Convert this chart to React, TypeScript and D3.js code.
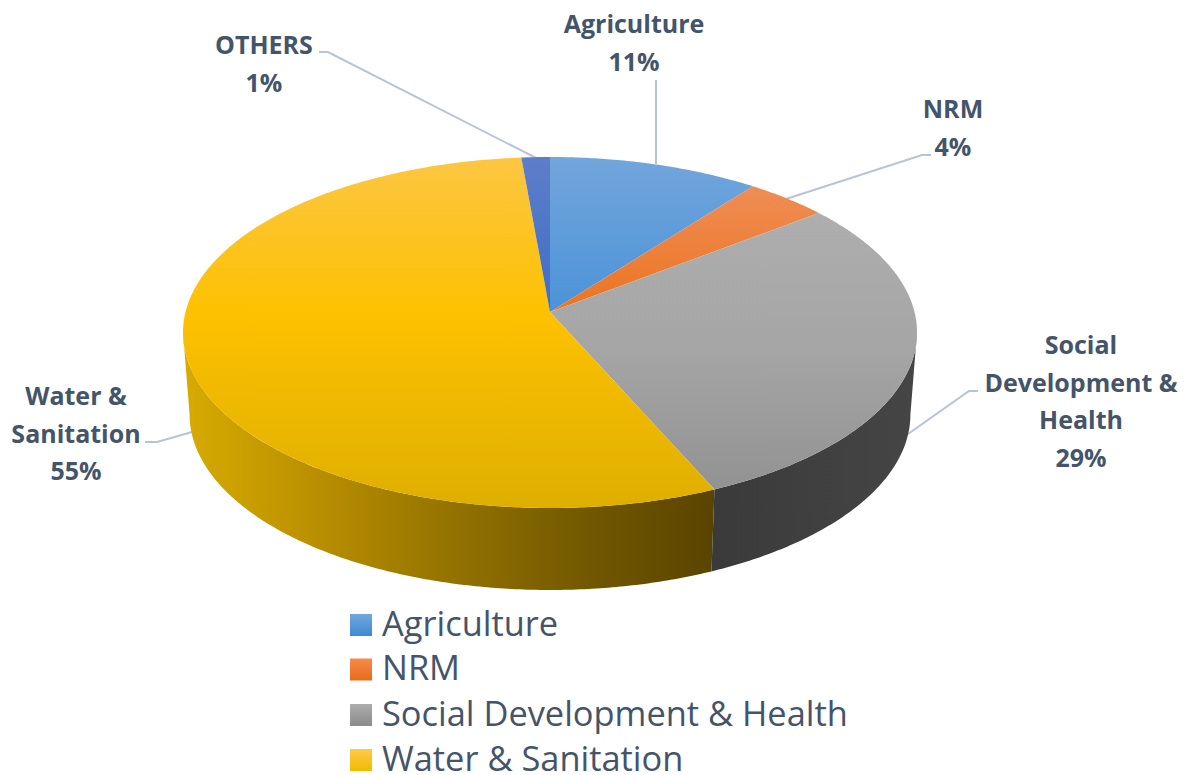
import React from "react";
import * as d3 from "d3";

const sliceNames = ["Agriculture", "NRM", "Social Development & Health", "Water & Sanitation", "OTHERS"];
const sliceValues = [10.4, 4.1, 28.9, 55.2, 1.4];
const sliceGradients = [
  [["0", "#72a6dc"], ["1", "#4c92d8"]],
  [["0", "#ef8d55"], ["1", "#ec7420"]],
  [["0", "#aeaeae"], ["0.5", "#a5a5a5"], ["1", "#929292"]],
  [["0", "#fcc643"], ["0.45", "#fdc100"], ["1", "#deaf00"]],
  [["0", "#5d7ec9"], ["1", "#3f6ec6"]],
];
const sliceGradientSpans = [[157, 312], [186, 312], [213, 490], [157, 508], [157, 312]];
const wallGradients = [
  [["0", "#d6aa00"], ["0.22", "#bd9200"], ["0.5", "#947300"], ["0.78", "#705600"], ["1", "#5a4500"]],
  [["0", "#3a3a3a"], ["1", "#454545"]],
];
const wallSlices = [3, 2];
const wallSpans = [[188, 711], [711, 911]];

const calloutLines = [
  ["Agriculture", "11%"],
  ["NRM", "4%"],
  ["Social", "Development &", "Health", "29%"],
  ["Water &", "Sanitation", "55%"],
  ["OTHERS", "1%"],
];
const calloutCenters = [[634, 33], [953, 118], [1081, 354], [76, 405], [264, 54]];
const leaderPaths = [
  [[656, 80], [656, 164]],
  [[931, 155], [922, 155], [786, 199]],
  [[978, 391], [969, 391], [908, 434]],
  [[145, 442], [157, 442], [192, 432]],
  [[319, 52], [328, 52], [536, 158]],
];
const legendNames = ["Agriculture", "NRM", "Social Development & Health", "Water & Sanitation"];
const legendGradients = [
  [["0", "#70a8de"], ["1", "#3f88d2"]],
  [["0", "#f68c48"], ["1", "#e76a1c"]],
  [["0", "#adadad"], ["1", "#8b8b8b"]],
  [["0", "#ffca4c"], ["1", "#f0bb00"]],
];
const legendRows = [614, 658.5, 704, 749];

const ink = "#44546a";
const persp = 0.1168;
const xScale = d3.scaleLinear().domain([-1, 1]).range([550 - 364.5, 550 + 364.5]);
const yScale = d3.scaleLinear().domain([-1, 1]).range([312 + 173.1, 312 - 173.1]);

const project = (theta: number): [number, number] => {
  const w = 1 + persp * Math.cos(theta);
  return [xScale(Math.sin(theta) / w), yScale(Math.cos(theta) / w)];
};
const projectBase = (theta: number): [number, number] => {
  const [x, y] = project(theta);
  return [550 + (x - 550) * 0.982, y + 82];
};
const arcAngles = (a: number, b: number) => {
  const n = Math.max(2, Math.ceil((b - a) / 0.01));
  return d3.range(n + 1).map((i) => a + ((b - a) * i) / n);
};
// The rim is seen only between the two tangent angles of the projected disc.
const rimStart = Math.acos(-persp);
const rimEnd = 2 * Math.PI - rimStart;

const pieGen = d3.pie<number>().sort(null).value((d) => d);
const arcs = pieGen(sliceValues);
const line = d3.line();
const linkLine = d3.line();

const Stops = ({ stops }: { stops: string[][] }) => (
  <>
    {stops.map(([o, c]) => (
      <stop key={o} offset={o} stopColor={c} />
    ))}
  </>
);

export default function App() {
  const apex: [number, number] = [xScale(0), yScale(0)];
  return (
    <svg
      width={1190}
      height={775}
      style={{ position: "absolute", left: 0, top: 0, background: "#fff" }}
      fontFamily="'Open Sans', Lato, sans-serif"
    >
      <defs>
        {sliceGradients.map((g, i) => (
          <linearGradient key={i} id={`top${i}`} gradientUnits="userSpaceOnUse" x1={0} x2={0} y1={sliceGradientSpans[i][0]} y2={sliceGradientSpans[i][1]}>
            <Stops stops={g} />
          </linearGradient>
        ))}
        {wallGradients.map((g, i) => (
          <linearGradient key={i} id={`wall${i}`} gradientUnits="userSpaceOnUse" x1={wallSpans[i][0]} x2={wallSpans[i][1]} y1={0} y2={0}>
            <Stops stops={g} />
          </linearGradient>
        ))}
        {legendGradients.map((g, i) => (
          <linearGradient key={i} id={`leg${i}`} x1={0} x2={0} y1={0} y2={1}>
            <Stops stops={g} />
          </linearGradient>
        ))}
      </defs>

      {leaderPaths.map((p, i) => (
        <path key={i} d={linkLine(p as [number, number][]) ?? ""} fill="none" stroke="#b7c3d7" strokeWidth={2} />
      ))}

      {wallSlices.map((s, i) => {
        const a = arcs[s];
        const ts = arcAngles(Math.max(a.startAngle, rimStart), Math.min(a.endAngle, rimEnd));
        const pts = [...ts.map(project), ...[...ts].reverse().map(projectBase)];
        return <path key={s} d={(line(pts) ?? "") + "Z"} fill={`url(#wall${i})`} />;
      })}

      {arcs.map((a, i) => {
        const pts = [apex, ...arcAngles(a.startAngle, a.endAngle).map(project)];
        return <path key={i} d={(line(pts) ?? "") + "Z"} fill={`url(#top${i})`} />;
      })}

      {calloutLines.map((lines, i) => (
        <text key={i} textAnchor="middle" fontSize={25} fontWeight={700} fill={ink}>
          {lines.map((t, j) => (
            <tspan key={j} x={calloutCenters[i][0]} y={calloutCenters[i][1] + j * 37.5}>
              {t}
            </tspan>
          ))}
        </text>
      ))}

      {legendNames.map((n, i) => (
        <g key={n}>
          <rect x={350} y={legendRows[i]} width={22} height={22} fill={`url(#leg${i})`} />
          <text x={382} y={legendRows[i] + 21.5} fontSize={34.4} fill={ink}>
            {n}
          </text>
        </g>
      ))}
    </svg>
  );
}
